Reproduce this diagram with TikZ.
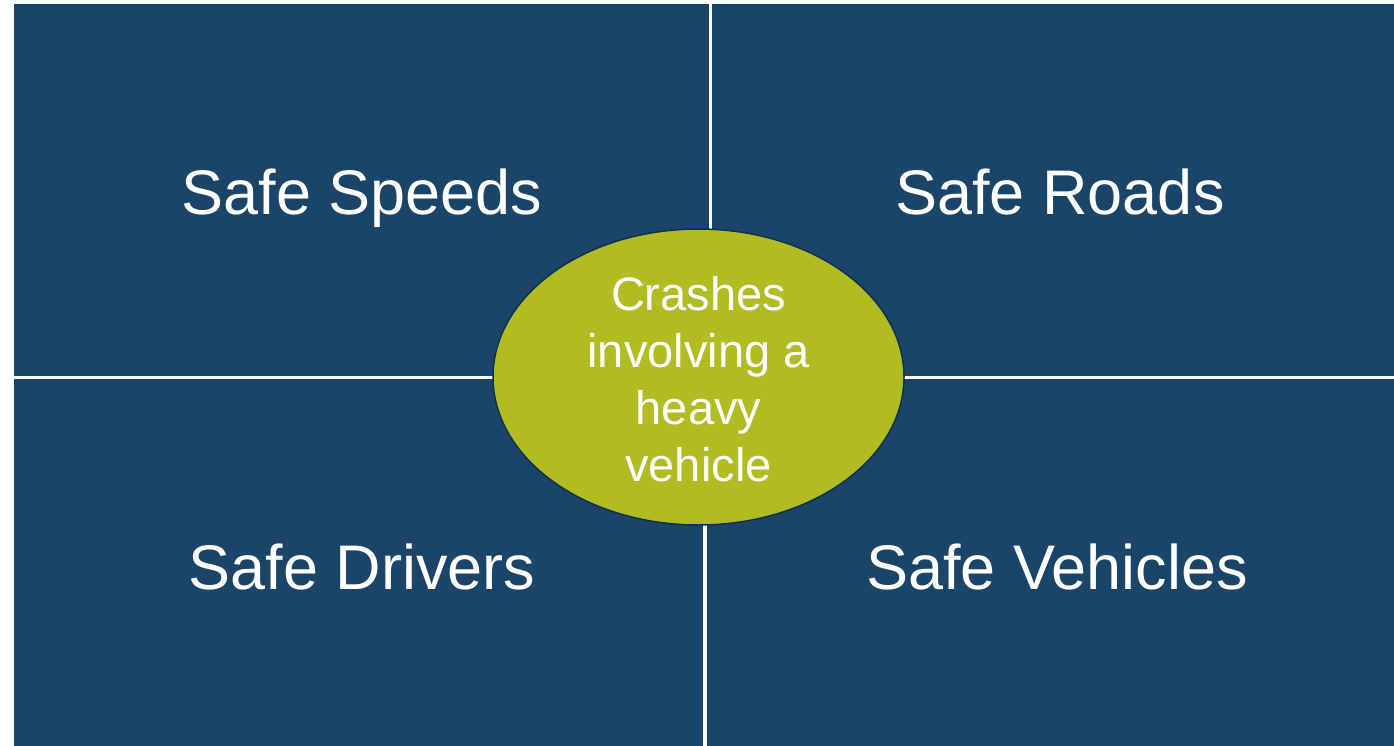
\documentclass[tikz,border=0pt]{standalone}
\usepackage{fontspec}
\setmainfont{Liberation Sans}
\usetikzlibrary{shapes.geometric}
\definecolor{navy}{HTML}{1B4469}
\definecolor{olive}{HTML}{B0BC22}
\definecolor{rim}{HTML}{0F3050}
\begin{document}
\begin{tikzpicture}[x=1pt, y=-1pt,
      quad/.style={fill=navy, draw=none},
      label/.style={text=white, anchor=base, font=\fontsize{63}{75}\selectfont},
      hub/.style={ellipse, fill=olive, draw=rim, line width=1.5pt,
        minimum width=411pt, minimum height=296pt, inner sep=0pt}]
      \useasboundingbox (0,0) rectangle (1394,746);
      % four panels
      \fill[navy] (14,4) rectangle (709,376);
      \fill[navy] (712,4) rectangle (1394,376);
      \fill[navy] (14,379) rectangle (703,746);
      \fill[navy] (707,379) rectangle (1394,746);
      \node[label] (speeds) at (362,214.5) {Safe Speeds};
      \node[label] (roads) at (1060,214.5) {Safe Roads};
      \node[label] (drivers) at (362,589.5) {Safe Drivers};
      \node[label] (vehicles) at (1057,589.5) {Safe Vehicles};
      \node[hub] (crash) at (698.5,377) {};
      \node[text=white, align=center, font=\fontsize{47}{57}\selectfont]
        (crashtext) at (698.5,379) {Crashes\\involving a\\heavy\\vehicle};
    \end{tikzpicture}
\end{document}
